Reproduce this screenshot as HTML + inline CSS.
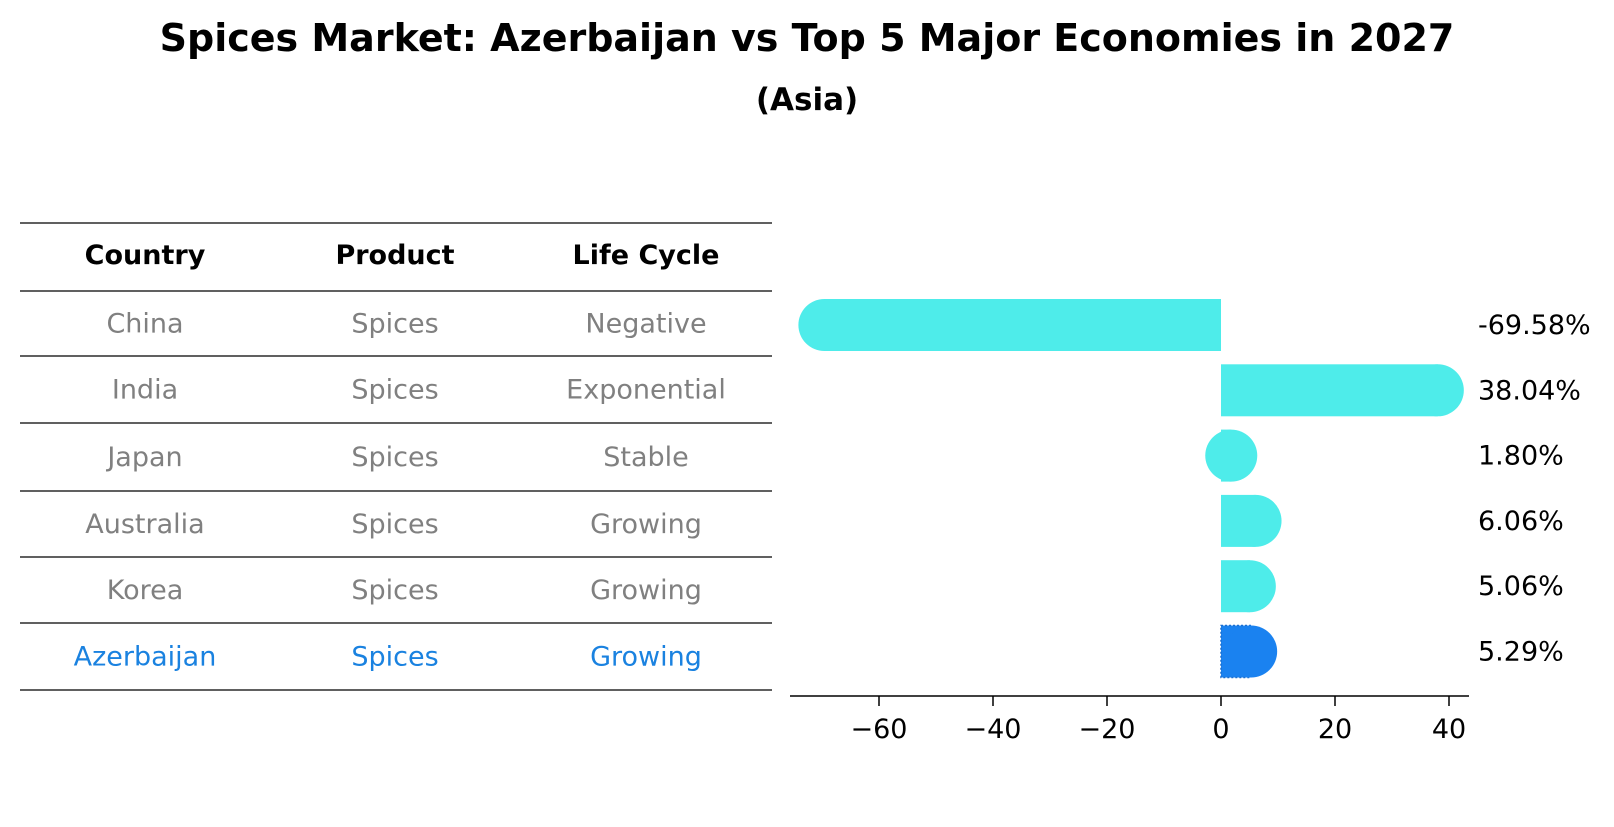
<!DOCTYPE html>
<html><head><meta charset="utf-8"><style>
body{margin:0;background:#fff;font-family:"DejaVu Sans","Liberation Sans",sans-serif;}
</style></head><body>
<svg width="1614" height="823" xmlns="http://www.w3.org/2000/svg" font-family="DejaVu Sans, Liberation Sans, sans-serif">
<text x="807" y="51" text-anchor="middle" font-size="38" font-weight="bold">Spices Market: Azerbaijan vs Top 5 Major Economies in 2027</text>
<text x="807" y="110" text-anchor="middle" font-size="31" font-weight="bold">(Asia)</text>
<g id="table"></g>
<g id="bars"></g>
</svg>
<script>
const countries=["China","India","Japan","Australia","Korea","Azerbaijan"];
const products=["Spices","Spices","Spices","Spices","Spices","Spices"];
const lifeCycles=["Negative","Exponential","Stable","Growing","Growing","Growing"];
const values=[-69.58,38.04,1.80,6.06,5.06,5.29];
const tickValues=[-60,-40,-20,0,20,40];
const NS="http://www.w3.org/2000/svg";
function mk(tag,attrs,parent,txt){const e=document.createElementNS(NS,tag);for(const k in attrs)e.setAttribute(k,attrs[k]);if(txt!==undefined)e.textContent=txt;parent.appendChild(e);return e;}
const tbl=document.getElementById('table');
const lineYs=[223,291,356,423,491,557,623,690];
lineYs.forEach((y,i)=>{const l=mk('line',{x1:20,x2:772,y1:y,y2:y,stroke:'#000','stroke-width':1.2},tbl);

});
const colX=[145,395,646];
["Country","Product","Life Cycle"].forEach((h,i)=>{const t=mk('text',{x:colX[i],y:264,'text-anchor':'middle','font-size':27,'font-weight':'bold'},tbl,h);

});
countries.forEach((c,r)=>{const y=(lineYs[r+1]+lineYs[r+2])/2+9;const col=r===countries.length-1?'#1a82e0':'#808080';
[c,products[r],lifeCycles[r]].forEach((v,i)=>{const t=mk('text',{x:colX[i],y:y,'text-anchor':'middle','font-size':27,fill:col},tbl,v);

});});
const g=document.getElementById('bars');
const x0=1221,ppu=5.70;
const xs=v=>x0+v*ppu;
const rowY=i=>325+i*65.3;
const H=52,R=26;
values.forEach((v,i)=>{const last=i===values.length-1;const col=last?'#1a82f0':'#4eecea';
const cy=rowY(i);const xv=xs(v);
const rect=mk('rect',{x:Math.min(x0,xv),y:cy-H/2,width:Math.abs(xv-x0),height:H,fill:col},g);


if(last){rect.setAttribute('stroke','#1a6fd0');rect.setAttribute('stroke-dasharray','2,2');rect.setAttribute('stroke-width','1.5');}
const c=mk('circle',{cx:xv,cy:cy,r:R,fill:col},g);


const t=mk('text',{x:1478,y:cy+9,'font-size':27},g,v.toFixed(2)+'%');

});
const ax=mk('line',{x1:790,x2:1469,y1:696,y2:696,stroke:'#000','stroke-width':1.5},g);


tickValues.forEach(v=>{const tk=mk('line',{x1:xs(v),x2:xs(v),y1:696,y2:706,stroke:'#000','stroke-width':1.5},g);


const t=mk('text',{x:xs(v),y:738,'text-anchor':'middle','font-size':27},g,v<0?'\u2212'+Math.abs(v):String(v));

});
</script>
</body></html>
